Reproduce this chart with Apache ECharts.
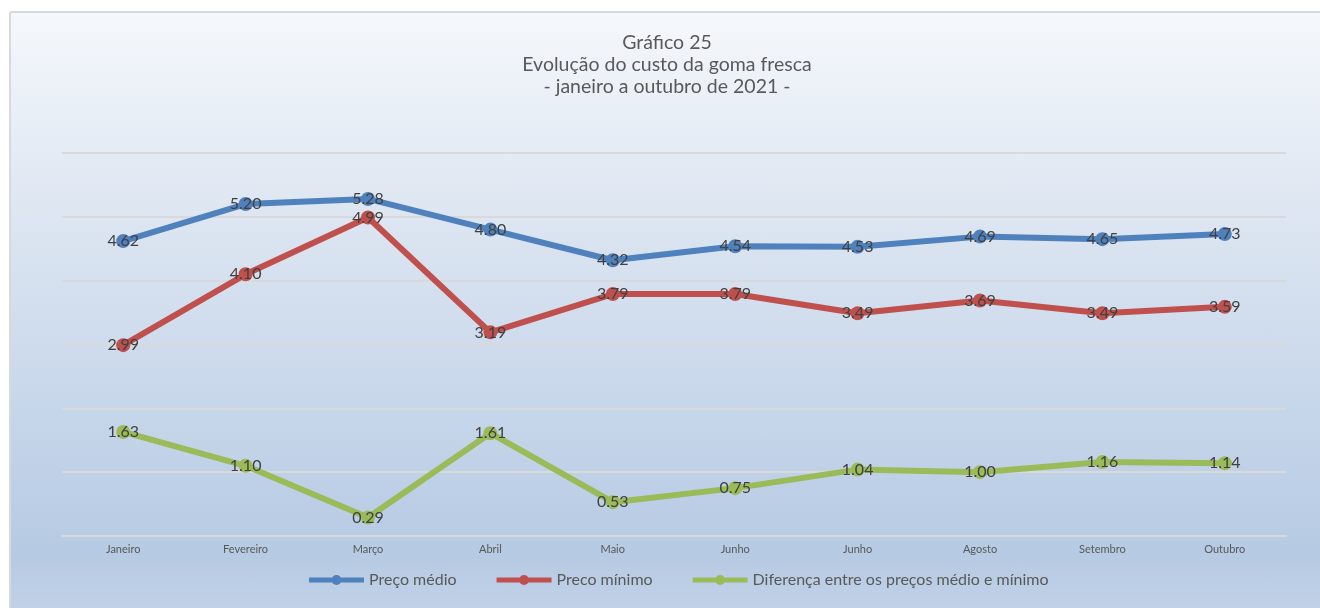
<!DOCTYPE html>
<html>
<head>
<meta charset="utf-8">
<script src="https://cdn.jsdelivr.net/npm/echarts@6/dist/echarts.min.js"></script>
<style>
  html, body { margin: 0; padding: 0; background: #ffffff; }
  #frame {
    position: absolute; left: 9px; top: 11px; width: 1330px; height: 620px;
    border: 2px solid #d9d9d9; border-radius: 3px; box-sizing: border-box;
    background: linear-gradient(to bottom, #f5f8fc 0%, #dfe7f2 30%, #c6d6ea 65%, #b6cae3 88%, #c5d5e9 100%);
  }
  #chart { position: absolute; left: 0; top: 0; width: 1320px; height: 608px; }
</style>
</head>
<body>
<div id="frame"></div>
<div id="chart"></div>
<script>
// Months (the source sheet repeats "Junho" for the seventh month)
const months = ['Janeiro', 'Fevereiro', 'Março', 'Abril', 'Maio', 'Junho', 'Junho', 'Agosto', 'Setembro', 'Outubro'];
const precoMedio = [4.62, 5.20, 5.28, 4.80, 4.32, 4.54, 4.53, 4.69, 4.65, 4.73];
const precoMinimo = [2.99, 4.10, 4.99, 3.19, 3.79, 3.79, 3.49, 3.69, 3.49, 3.59];
const diferenca = [1.63, 1.10, 0.29, 1.61, 0.53, 0.75, 1.04, 1.00, 1.16, 1.14];
const titleLines = ['Gráfico 25', 'Evolução do custo da goma fresca', '- janeiro a outubro de 2021 -'];

const FONT = 'Lato, "Open Sans", sans-serif';
const legendIcon = 'path://M0,2.5H55V7.5H0Z M22.5,5A5,5,0,1,1,32.5,5A5,5,0,1,1,22.5,5Z';

function lineSeries(name, data, color) {
  return {
    name: name,
    type: 'line',
    data: data,
    symbol: 'circle',
    symbolSize: 14,
    lineStyle: { color: color, width: 6 },
    itemStyle: { color: color },
    label: {
      show: true,
      position: 'inside',
      color: '#404040',
      fontFamily: FONT,
      fontSize: 16,
      formatter: p => p.value.toFixed(2)
    },
    emphasis: { disabled: true },
    animation: false
  };
}

// Three centred title lines above the plot
const titleGraphics = titleLines.map((line, i) => ({
  type: 'text',
  x: 667,
  y: 43 + i * 22,
  silent: true,
  style: {
    text: line,
    fill: '#595959',
    font: '19.5px ' + FONT,
    align: 'center',
    verticalAlign: 'middle'
  }
}));

const chart = echarts.init(document.getElementById('chart'), null, { renderer: 'canvas' });
chart.setOption({
  backgroundColor: 'transparent',
  graphic: titleGraphics,
  legend: {
    bottom: 15,
    left: 304,
    itemWidth: 55,
    itemHeight: 10,
    itemGap: 40,
    icon: legendIcon,
    textStyle: { color: '#595959', fontFamily: FONT, fontSize: 16 },
    data: [
      { name: 'Preço médio', itemStyle: { color: '#4f81bd' } },
      { name: 'Preco mínimo', itemStyle: { color: '#c0504d' } },
      { name: 'Diferença entre os preços médio e mínimo', itemStyle: { color: '#9bbb59' } }
    ]
  },
  grid: { left: 62, right: 34, top: 153, bottom: 72 },
  xAxis: {
    type: 'category',
    data: months,
    boundaryGap: true,
    axisLine: { show: true, lineStyle: { color: '#d9d9d9', width: 2 } },
    axisTick: { show: false },
    axisLabel: { color: '#595959', fontFamily: FONT, fontSize: 11, margin: 8, interval: 0 }
  },
  yAxis: {
    type: 'value',
    min: 0,
    max: 6,
    interval: 1,
    axisLabel: { show: false },
    axisLine: { show: false },
    axisTick: { show: false },
    splitLine: { lineStyle: { color: '#d9d9d9', width: 2 } }
  },
  series: [
    lineSeries('Preço médio', precoMedio, '#4f81bd'),
    lineSeries('Preco mínimo', precoMinimo, '#c0504d'),
    lineSeries('Diferença entre os preços médio e mínimo', diferenca, '#9bbb59')
  ]
});
</script>
</body>
</html>
